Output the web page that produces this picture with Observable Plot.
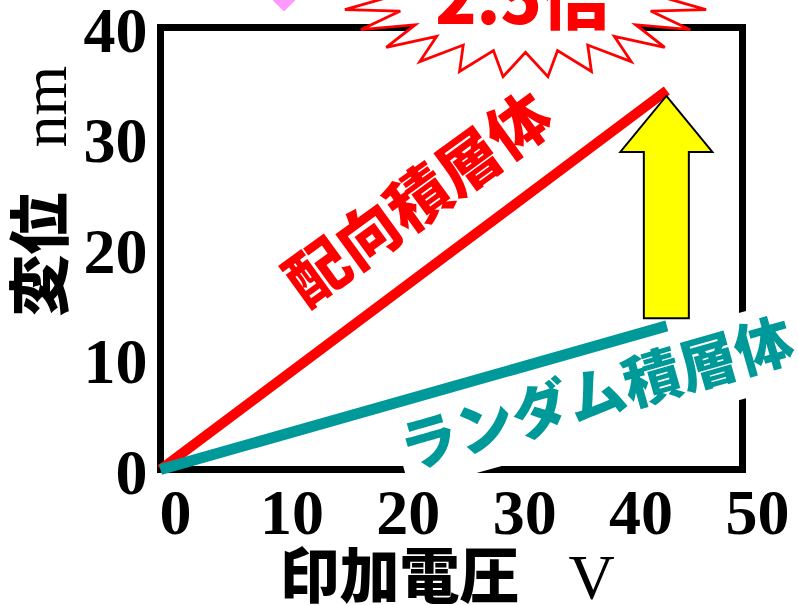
<!DOCTYPE html>
<html><head><meta charset="utf-8">
<script src="https://cdn.jsdelivr.net/npm/d3@7"></script>
<script src="https://cdn.jsdelivr.net/npm/@observablehq/plot@0.6"></script>
<style>body{margin:0;background:#fff} svg{display:block}</style>
</head><body><div id="chart"></div>
<script>
// ---- data ----
const voltage = [0, 43.5];          // V
const alignedDisp = [0, 34.3];      // nm, 配向積層体
const randomDisp = [0, 13.0];       // nm, ランダム積層体
const xTicks = [0, 10, 20, 30, 40, 50];
const yTicks = [0, 10, 20, 30, 40];
const seriesNames = ["配向積層体", "ランダム積層体"];
const xTitle = "印加電圧", xUnit = "V";
const yTitle = "変位", yUnit = "nm";
const ratioText = "2.5倍";
// annotation anchors (data units)
const alignedLabelAt = [22.3, 24.3];
const randomLabelAt = [37.5, 6.6];
const burstAt = [31.4, 43.5];
const pinkAt = [10.65, 41.4];

const RED = "#FF0000", TEAL = "#009999";
const serif = "'Liberation Serif','Times New Roman',serif";
const gothic = "'Noto Sans CJK JP','Noto Sans CJK SC',sans-serif";

const alignedData = voltage.map((v, i) => ({v, d: alignedDisp[i]}));
const randomData = voltage.map((v, i) => ({v, d: randomDisp[i]}));

function burst(index, {x, y}) {
  const cx = x(burstAt[0]), cy = y(burstAt[1]);
  const n = 26, rx = 186, ry = 89, k = 0.72;
  const pts = [];
  for (let i = 0; i < n; i++) {
    const a = 2 * Math.PI * i / n;
    pts.push([cx + rx * Math.cos(a), cy + ry * Math.sin(a)]);
    const b = a + Math.PI / n;
    pts.push([cx + rx * k * Math.cos(b), cy + ry * k * Math.sin(b)]);
  }
  const g = d3.create("svg:g");
  g.append("path").attr("d", d3.line()(pts) + "Z")
    .attr("fill", "white").attr("stroke", RED).attr("stroke-width", 2.8);
  g.append("text").attr("x", cx - 3).attr("y", cy + 36)
    .attr("text-anchor", "middle").attr("fill", RED)
    .attr("font-family", gothic).attr("font-weight", 900).attr("font-size", 68)
    .text(ratioText);
  return g.node();
}

function pink(index, {x, y}) {
  const px = x(pinkAt[0]), py = y(pinkAt[1]);
  const g = d3.create("svg:g");
  g.append("path").attr("d", d3.line()([[px - 22, py - 22], [px + 22, py - 22], [px, py]]) + "Z")
    .attr("fill", "#FF99FF");
  return g.node();
}

function labelBox(index, {x, y}) {
  const px = x(randomLabelAt[0]), py = y(randomLabelAt[1]);
  const g = d3.create("svg:g");
  g.append("rect").attr("x", -205).attr("y", -42).attr("width", 410).attr("height", 84)
    .attr("fill", "white")
    .attr("transform", `translate(${px},${py}) rotate(-15.5)`);
  return g.node();
}

function arrow(index, {x, y}) {
  const n = voltage.length - 1;
  const cx = x(voltage[n]);
  const top = y(alignedDisp[n]) + 6, bottom = y(randomDisp[n]) - 7;
  const headH = 56, headW = 46, shaftW = 22.5;
  const pts = [[cx, top], [cx + headW, top + headH], [cx + shaftW, top + headH],
    [cx + shaftW, bottom], [cx - shaftW, bottom], [cx - shaftW, top + headH], [cx - headW, top + headH]];
  const g = d3.create("svg:g");
  g.append("path").attr("d", d3.line()(pts) + "Z")
    .attr("fill", "#FFFF00").attr("stroke", "black").attr("stroke-width", 2).attr("stroke-linejoin", "miter");
  return g.node();
}

const plot = Plot.plot({
  width: 798, height: 605,
  marginLeft: 160, marginRight: 56, marginTop: 27, marginBottom: 136,
  x: {domain: [0, 50], label: null},
  y: {domain: [0, 40], label: null},
  style: {background: "white", color: "black", overflow: "visible"},
  marks: [
    Plot.frame({stroke: "black", strokeWidth: 7}),
    burst,
    pink,
    labelBox,
    Plot.line(alignedData, {x: "v", y: "d", stroke: RED, strokeWidth: 10, strokeLinecap: "butt"}),
    Plot.line(randomData, {x: "v", y: "d", stroke: TEAL, strokeWidth: 11, strokeLinecap: "butt"}),
    arrow,
    Plot.text([{t: seriesNames[0], x: alignedLabelAt[0], y: alignedLabelAt[1]}],
      {x: "x", y: "y", text: "t", rotate: -36, fill: RED, fontSize: 62, fontWeight: 900, fontFamily: gothic}),
    Plot.text([{t: seriesNames[1], x: randomLabelAt[0], y: randomLabelAt[1]}],
      {x: "x", y: "y", text: "t", rotate: -16, fill: TEAL, fontSize: 58, fontWeight: 900, fontFamily: gothic}),
    Plot.axisX(xTicks, {tickSize: 0, tickPadding: 19, fontSize: 64, fontWeight: "bold", fontFamily: serif, dx: 15, fill: "black", label: null}),
    Plot.axisY(yTicks, {tickSize: 0, tickPadding: 13, fontSize: 64, fontWeight: "bold", fontFamily: serif, dy: 4, fill: "black", label: null}),
    Plot.text([xTitle], {text: d => d, frameAnchor: "bottom", textAnchor: "middle", lineAnchor: "middle", dx: -52, dy: 109, fontSize: 60, fontWeight: 900, fontFamily: gothic, fill: "black"}),
    Plot.text([xUnit], {text: d => d, frameAnchor: "bottom", textAnchor: "middle", lineAnchor: "middle", dx: 140, dy: 109, fontSize: 64, fontFamily: serif, fill: "black"}),
    Plot.text([yTitle], {text: d => d, frameAnchor: "left", textAnchor: "middle", lineAnchor: "middle", rotate: -90, dx: -117, dy: 6, fontSize: 62, fontWeight: 900, fontFamily: gothic, fill: "black"}),
    Plot.text([yUnit], {text: d => d, frameAnchor: "left", textAnchor: "middle", lineAnchor: "middle", rotate: -90, dx: -115, dy: -142, fontSize: 64, fontFamily: serif, fill: "black"})
  ]
});
document.getElementById("chart").appendChild(plot);
</script>
</body></html>
